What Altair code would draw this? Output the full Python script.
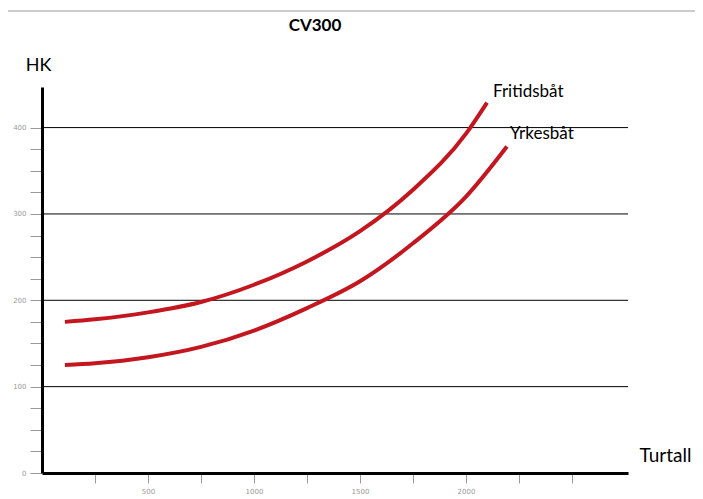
import altair as alt
import pandas as pd

# --- data ---
rpm_fritid = [108, 250, 500, 750, 1000, 1250, 1500, 1750, 2000, 2099]
hk_fritid = [175, 178, 186, 198, 218, 245, 280, 328, 393, 429]
rpm_yrkes = [108, 250, 500, 750, 1000, 1250, 1500, 1750, 2000, 2193]
hk_yrkes = [125, 127, 134, 146, 165, 191, 222, 266, 320, 378]
series_names = ["Fritidsbåt", "Yrkesbåt"]
grid_hk = [100, 200, 300, 400]
x_ticks = list(range(250, 2501, 250))
y_ticks = list(range(0, 401, 25))

df = pd.concat([
    pd.DataFrame({"rpm": rpm_fritid, "hk": hk_fritid, "serie": series_names[0], "o": range(len(rpm_fritid))}),
    pd.DataFrame({"rpm": rpm_yrkes, "hk": hk_yrkes, "serie": series_names[1], "o": range(len(rpm_yrkes))}),
])
lab_f = pd.DataFrame({"rpm": [rpm_fritid[-1]], "hk": [hk_fritid[-1]], "serie": [series_names[0]]})
lab_y = pd.DataFrame({"rpm": [rpm_yrkes[-1]], "hk": [hk_yrkes[-1]], "serie": [series_names[1]]})

W, H = 586, 386
FONT = "Lato"
xs = alt.Scale(domain=[0, 2764], nice=False, zero=False)
ys = alt.Scale(domain=[0, 447], nice=False, zero=False)

x_axis = alt.Axis(
    values=x_ticks, labelExpr="(datum.value % 500 == 0 && datum.value < 2500) ? datum.label : ''",
    format="d", grid=False, domainColor="black", domainWidth=3,
    tickColor="#999", tickSize=10, tickWidth=1, labelColor="#999",
    labelFontSize=7, labelFont="DejaVu Sans", labelPadding=4,
    title="Turtall", titleX=623, titleY=-18, titleAlign="center", titleBaseline="middle",
    titleFont=FONT, titleFontSize=19, titleFontWeight="normal", titleColor="black",
)
y_axis = alt.Axis(
    values=y_ticks, labelExpr="datum.value % 100 == 0 ? datum.label : ''",
    grid=False, domainColor="black", domainWidth=3,
    tickColor="#999", tickSize=12, tickWidth=1, labelColor="#999",
    labelFontSize=7, labelFont="DejaVu Sans", labelPadding=4,
    title="HK", titleX=-4, titleY=-22, titleAngle=0, titleAlign="center", titleBaseline="middle",
    titleFont=FONT, titleFontSize=18, titleFontWeight="normal", titleColor="black",
)

grid = alt.Chart(pd.DataFrame({"v": grid_hk})).mark_rule(color="black", strokeWidth=1).encode(
    y=alt.Y("v:Q", scale=ys, axis=y_axis, title="HK"),
    x=alt.value(0), x2=alt.value(W),
)

lines = alt.Chart(df).mark_line(color="#c4161f", strokeWidth=4, interpolate="monotone", strokeCap="butt").encode(
    x=alt.X("rpm:Q", scale=xs, axis=x_axis, title="Turtall"),
    y=alt.Y("hk:Q", scale=ys, axis=y_axis, title="HK"),
    detail="serie:N",
    order="o:Q",
)

t_f = alt.Chart(lab_f).mark_text(align="left", baseline="middle", dx=6, dy=-11, font=FONT, fontSize=17, color="black").encode(
    x=alt.X("rpm:Q", scale=xs, axis=x_axis, title="Turtall"),
    y=alt.Y("hk:Q", scale=ys, axis=y_axis, title="HK"), text="serie:N")
t_y = alt.Chart(lab_y).mark_text(align="left", baseline="middle", dx=3, dy=-13, font=FONT, fontSize=17, color="black").encode(
    x=alt.X("rpm:Q", scale=xs, axis=x_axis, title="Turtall"),
    y=alt.Y("hk:Q", scale=ys, axis=y_axis, title="HK"), text="serie:N")

title = alt.Chart(pd.DataFrame({"t": ["CV300"]})).mark_text(
    font=FONT, fontSize=17, fontWeight="bold", color="black", align="center", baseline="middle"
).encode(x=alt.value(273), y=alt.value(-61), text="t:N")

topline = alt.Chart(pd.DataFrame({"a": [0]})).mark_rule(color="#cccccc", strokeWidth=2).encode(
    x=alt.value(-34), x2=alt.value(661), y=alt.value(-76))

chart = alt.layer(topline, grid, lines, t_f, t_y, title).properties(
    width=W, height=H,
    autosize=alt.AutoSizeParams(type="none"),
    padding={"left": 34, "top": 79, "right": 67, "bottom": 24},
).configure_view(stroke=None)

chart.save("out.html", embed_options={"renderer": "svg", "actions": False})
